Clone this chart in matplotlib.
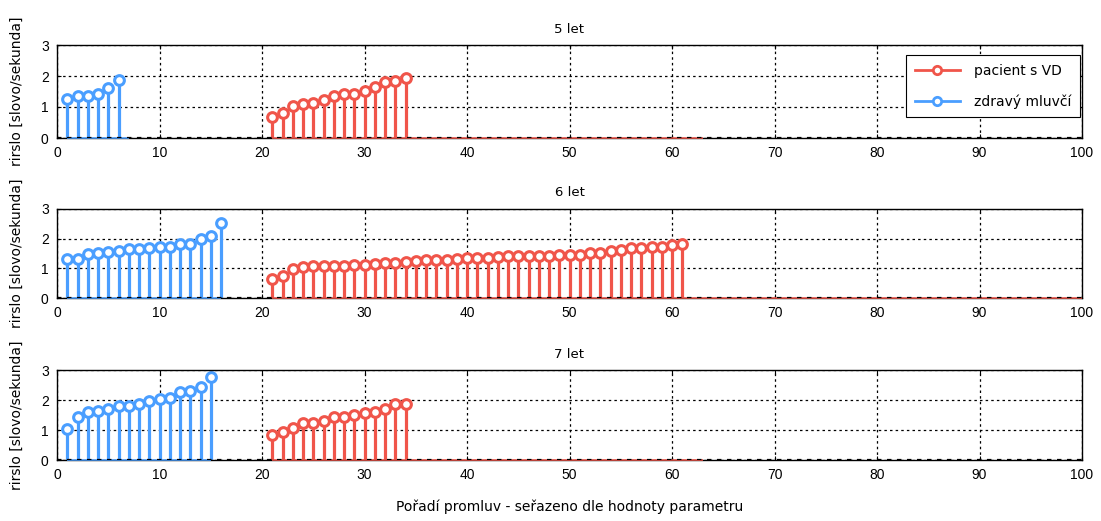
import numpy as np
import matplotlib
matplotlib.use("Agg")
import matplotlib.pyplot as plt
from matplotlib.lines import Line2D

plt.rcParams['font.family'] = ['Liberation Sans', 'DejaVu Sans']

panel_titles = ["5 let", "6 let", "7 let"]

# healthy speakers, sorted speech rate (words per second)
healthy_5 = [1.25, 1.35, 1.36, 1.42, 1.62, 1.88]
healthy_6 = [1.31, 1.32, 1.50, 1.51, 1.56, 1.60, 1.65, 1.66, 1.70, 1.71,
             1.72, 1.82, 1.83, 1.98, 2.09, 2.52]
healthy_7 = [1.02, 1.44, 1.59, 1.64, 1.70, 1.80, 1.81, 1.86, 1.97, 2.02,
             2.06, 2.28, 2.29, 2.44, 2.76]

# patients with speech disorder, sorted speech rate
patient_5 = [0.67, 0.80, 1.04, 1.11, 1.12, 1.23, 1.36, 1.41, 1.42, 1.52,
             1.64, 1.82, 1.83, 1.93]
patient_6 = [0.64, 0.75, 0.99, 1.06, 1.08, 1.08, 1.08, 1.09, 1.10, 1.12,
             1.13, 1.18, 1.19, 1.23, 1.26, 1.27, 1.28, 1.29, 1.33, 1.34,
             1.34, 1.35, 1.39, 1.40, 1.40, 1.41, 1.41, 1.42, 1.45, 1.46,
             1.46, 1.51, 1.52, 1.58, 1.62, 1.67, 1.68, 1.71, 1.72, 1.77,
             1.83]
patient_7 = [0.83, 0.94, 1.06, 1.24, 1.25, 1.30, 1.44, 1.45, 1.50, 1.58,
             1.59, 1.69, 1.87, 1.88]

healthy_sets = [healthy_5, healthy_6, healthy_7]
patient_sets = [patient_5, patient_6, patient_7]
patient_start = 21
healthy_baseline_end = [7, 16, 15]
patient_baseline_end = [63, 100, 63]

x_ticks = list(range(0, 101, 10))
y_ticks = [0, 1, 2, 3]

RED = '#F0554A'
BLUE = '#4A9EFF'

ylabel = 'rirslo [slovo/sekunda]'
xlabel = 'Pořadí promluv - seřazeno dle hodnoty parametru'

LABEL_FONT = ['DejaVu Sans']
DOTTED = (0, (2, 2.5))

fig = plt.figure(figsize=(11.01, 5.21), dpi=100)
W, H = 1101, 521
left, right = 57, 1082
tops = [45, 209, 370]
bottoms = [138, 298, 460]


def stem(ax, x, y, color, base_end):
    x = np.asarray(x, dtype=float)
    y = np.asarray(y, dtype=float)
    ax.plot([x[0], base_end], [0, 0], color=color, lw=1.1, zorder=7,
            clip_on=False, solid_capstyle='butt')
    ax.vlines(x, 0, y, color=color, lw=2.3, zorder=3)
    ax.plot(x, y, 'o', ms=7, mfc='white', mec=color, mew=2.2, zorder=4)


for i in range(3):
    ax = fig.add_axes([left / W, 1 - bottoms[i] / H,
                       (right - left) / W, (bottoms[i] - tops[i]) / H])
    hx = np.arange(1, len(healthy_sets[i]) + 1)
    px = np.arange(patient_start, patient_start + len(patient_sets[i]))
    stem(ax, px, patient_sets[i], RED, patient_baseline_end[i])
    stem(ax, hx, healthy_sets[i], BLUE, healthy_baseline_end[i])
    ax.axhline(0, color='black', linestyle=DOTTED, lw=1.6, zorder=8)
    ax.set_xlim(0, 100)
    ax.set_ylim(0, 3)
    ax.set_xticks(x_ticks)
    ax.set_yticks(y_ticks)
    ax.grid(True, color='black', linestyle=DOTTED, linewidth=0.9)
    ax.set_axisbelow(False)
    for s in ax.spines.values():
        s.set_linewidth(1.0)
        s.set_zorder(6)
    ax.tick_params(direction='in', length=3, labelsize=10, pad=6,
                   top=True, right=True)
    ax.set_title(panel_titles[i], fontsize=9.5, pad=9, family=LABEL_FONT)
    ax.set_ylabel(ylabel, fontsize=10, labelpad=12, family=LABEL_FONT)
    if i == 0:
        handles = [
            Line2D([0], [0], color=RED, lw=2, marker='o', ms=6, mfc='white',
                   mec=RED, mew=2, markevery=[1]),
            Line2D([0], [0], color=BLUE, lw=2, marker='o', ms=6, mfc='white',
                   mec=BLUE, mew=2, markevery=[1]),
        ]
        leg = ax.legend(handles, ['pacient s VD', 'zdravý mluvčí'],
                        loc='upper right', bbox_to_anchor=(0.998, 0.89),
                        borderaxespad=0,
                        prop={'family': LABEL_FONT, 'size': 10},
                        frameon=True, fancybox=False,
                        edgecolor='black', framealpha=1, borderpad=0.6,
                        handlelength=3.3, handletextpad=1.0,
                        labelspacing=1.2)
        leg.get_frame().set_linewidth(0.8)
        leg.set_zorder(10)
    if i == 2:
        ax.set_xlabel(xlabel, fontsize=10, labelpad=12, family=LABEL_FONT)

fig.savefig('out.png', dpi=100)
